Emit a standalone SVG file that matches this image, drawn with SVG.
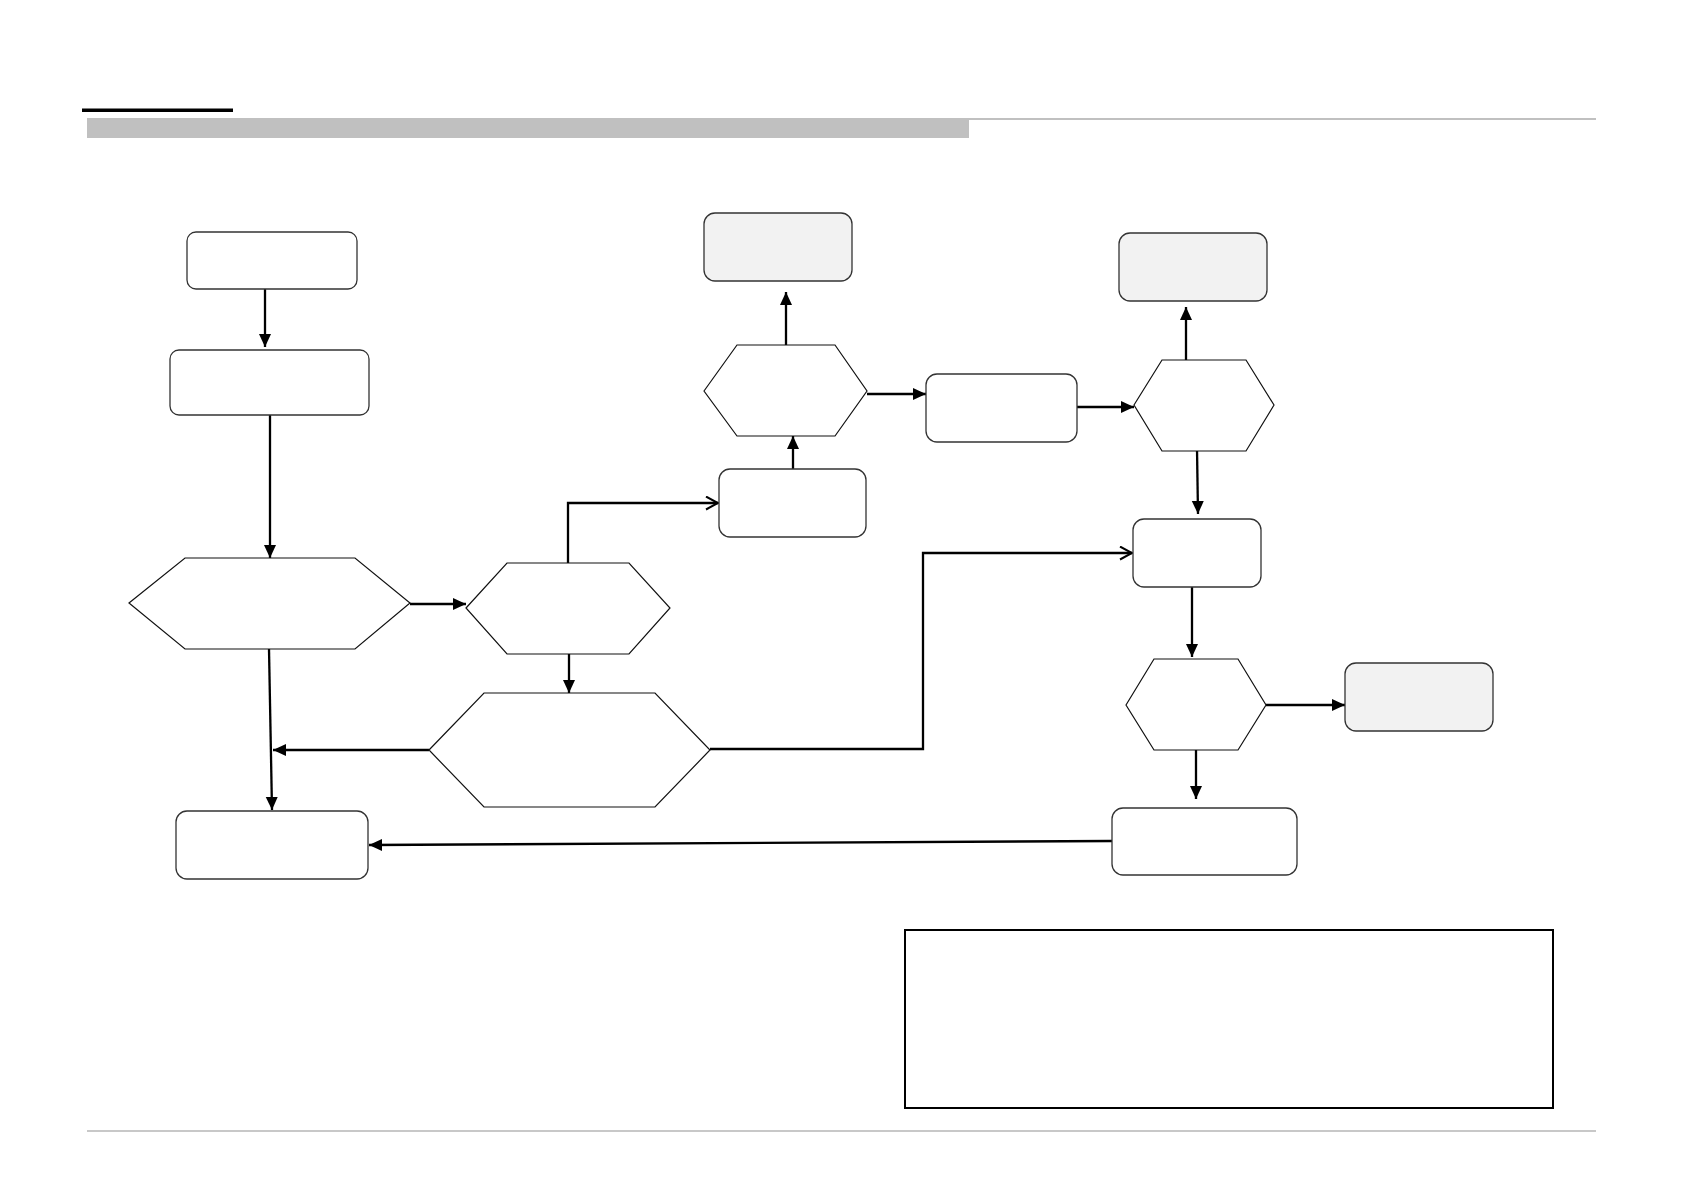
<svg xmlns="http://www.w3.org/2000/svg" width="1683" height="1191" viewBox="0 0 1683 1191">
<style>
.box{fill:#ffffff;stroke:#333333;stroke-width:1.3}
.grey{fill:#f2f2f2;stroke:#333333;stroke-width:1.3}
.hex{fill:#ffffff;stroke:#111111;stroke-width:1.2}
.con{fill:none;stroke:#000000;stroke-width:2.3}
.f{marker-end:url(#fa)}
.o{marker-end:url(#oa)}
</style>
<defs>
<marker id="fa" markerUnits="userSpaceOnUse" markerWidth="14" markerHeight="13" refX="13" refY="6" orient="auto">
<path d="M0,0 L13,6 L0,12 z" fill="#000000"/>
</marker>
<marker id="oa" markerUnits="userSpaceOnUse" markerWidth="15" markerHeight="15" refX="13" refY="7.5" orient="auto">
<path d="M1,1 L13,7.5 L1,14" fill="none" stroke="#000000" stroke-width="2"/>
</marker>
</defs>
<rect width="1683" height="1191" fill="#ffffff"/>
<g id="header">
<rect x="82" y="108.5" width="151" height="3.5" fill="#000000"/>
<rect x="87" y="118" width="1509" height="2" fill="#c0c0c0"/>
<rect x="87" y="118" width="882" height="20" fill="#c0c0c0"/>
<rect x="87" y="1130" width="1509" height="2" fill="#c8c8c8"/>
</g>
<g transform="translate(0,1)">
<g id="connectors">
<path class="con f" d="M265,288 L265,346"/>
<path class="con f" d="M270,414 L270,557"/>
<path class="con f" d="M410,603 L466,603"/>
<path class="con f" d="M269,648 L272,809"/>
<path class="con f" d="M429,749 L273,749"/>
<path class="con f" d="M569,653 L569,692"/>
<path class="con o" d="M568,562 L568,502 L718,502"/>
<path class="con f" d="M793,468 L793,435"/>
<path class="con f" d="M786,344 L786,291"/>
<path class="con f" d="M867,393 L926,393"/>
<path class="con f" d="M1077,406 L1134,406"/>
<path class="con f" d="M1186,359 L1186,306"/>
<path class="con f" d="M1197,448 L1198,513"/>
<path class="con o" d="M710,748 L923,748 L923,552 L1132,552"/>
<path class="con f" d="M1192,586 L1192,656"/>
<path class="con f" d="M1266,704 L1345,704"/>
<path class="con f" d="M1196,749 L1196,798"/>
<path class="con f" d="M1112,840 L369,844"/>
</g>
<g id="n1"><rect class="box" x="187" y="231" width="170" height="57" rx="9"/></g>
<g id="n2"><rect class="box" x="170" y="349" width="199" height="65" rx="9"/></g>
<g id="n3"><polygon class="hex" points="129,602 185,557 355,557 410,602 355,648 185,648"/></g>
<g id="n4"><polygon class="hex" points="466,607 507,562 629,562 670,607 629,653 507,653"/></g>
<g id="n5"><polygon class="hex" points="429,749 484,692 655,692 710,749 655,806 484,806"/></g>
<g id="n6"><rect class="box" x="176" y="810" width="192" height="68" rx="11"/></g>
<g id="n7"><rect class="box" x="719" y="468" width="147" height="68" rx="11"/></g>
<g id="n8"><polygon class="hex" points="704,390 737,344 835,344 867,390 835,435 737,435"/></g>
<g id="n9"><rect class="grey" x="704" y="212" width="148" height="68" rx="11"/></g>
<g id="n10"><rect class="box" x="926" y="373" width="151" height="68" rx="11"/></g>
<g id="n11"><polygon class="hex" points="1134,404 1162,359 1246,359 1274,404 1246,450 1162,450"/></g>
<g id="n12"><rect class="grey" x="1119" y="232" width="148" height="68" rx="11"/></g>
<g id="n13"><rect class="box" x="1133" y="518" width="128" height="68" rx="11"/></g>
<g id="n14"><polygon class="hex" points="1126,704 1154,658 1238,658 1266,704 1238,749 1154,749"/></g>
<g id="n15"><rect class="grey" x="1345" y="662" width="148" height="68" rx="11"/></g>
<g id="n16"><rect class="box" x="1112" y="807" width="185" height="67" rx="11"/></g>
<g id="legend"><rect x="905" y="929" width="648" height="178" fill="#ffffff" stroke="#000000" stroke-width="2"/></g>
</g>
</svg>
